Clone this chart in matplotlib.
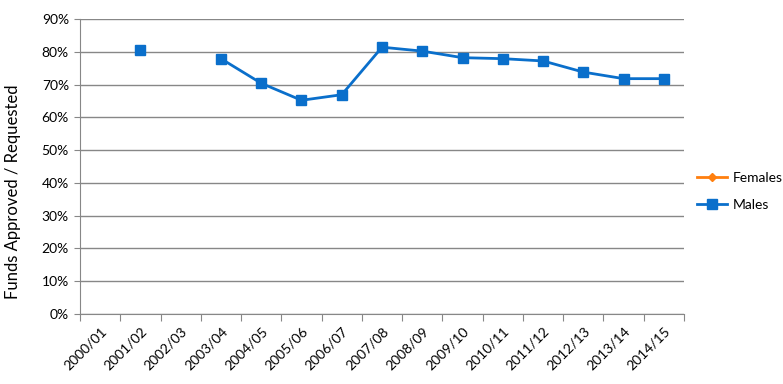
import numpy as np
import matplotlib.pyplot as plt
from matplotlib.ticker import PercentFormatter

plt.rcParams.update({
    "font.family": "sans-serif",
    "font.sans-serif": ["Lato", "DejaVu Sans"],
    "font.size": 10,
})

years = ["2000/01", "2001/02", "2002/03", "2003/04", "2004/05", "2005/06", "2006/07",
         "2007/08", "2008/09", "2009/10", "2010/11", "2011/12", "2012/13", "2013/14", "2014/15"]

# fraction of funds approved / requested (nan = no data)
males = [np.nan, 0.804, np.nan, 0.779, 0.704, 0.652, 0.669,
         0.814, 0.802, 0.782, 0.779, 0.772, 0.738, 0.718, 0.718]
females = [np.nan] * len(years)

blue = "#0A6FCB"
orange = "#FF7F0E"
grid_col = "#878787"

fig = plt.figure(figsize=(7.83, 3.84), dpi=100)
ax = fig.add_axes([80 / 783, 1 - 314 / 384, (684 - 80) / 783, (314 - 19) / 384])

x = np.arange(len(years))
ax.plot(x, females, color=orange, lw=2, marker="D", ms=4, label="Females")
ax.plot(x, males, color=blue, lw=2, marker="s", ms=7, label="Males")

ax.set_xlim(-0.5, len(years) - 0.5)
ax.set_ylim(0, 0.9)
ax.set_yticks(np.arange(0, 0.91, 0.1))
ax.yaxis.set_major_formatter(PercentFormatter(1.0, decimals=0))

# category boundaries get the tick marks, labels sit on the centers
ax.set_xticks(np.arange(-0.5, len(years), 1.0))
ax.set_xticks(x, minor=True)
ax.set_xticklabels([])
ax.set_xticklabels(years, minor=True, rotation=45, ha="right", rotation_mode="anchor")
ax.tick_params(axis="x", which="major", length=5, color=grid_col)
ax.tick_params(axis="x", which="minor", length=0, pad=8)
ax.tick_params(axis="y", length=4, color=grid_col, pad=4)

ax.yaxis.grid(True, color=grid_col, lw=1)
ax.set_axisbelow(True)
for s in ["top", "right"]:
    ax.spines[s].set_visible(False)
ax.spines["left"].set_color(grid_col)
ax.spines["bottom"].set_color(grid_col)

fig.text(0.016, 0.5, "Funds Approved / Requested", rotation=90, va="center", ha="center", fontsize=12)

ax.legend(loc="center left", bbox_to_anchor=(1.0, 0.415), frameon=False,
          handlelength=2.2, handletextpad=0.4, labelspacing=1.1, fontsize=10)

fig.savefig("out.png", dpi=100)
